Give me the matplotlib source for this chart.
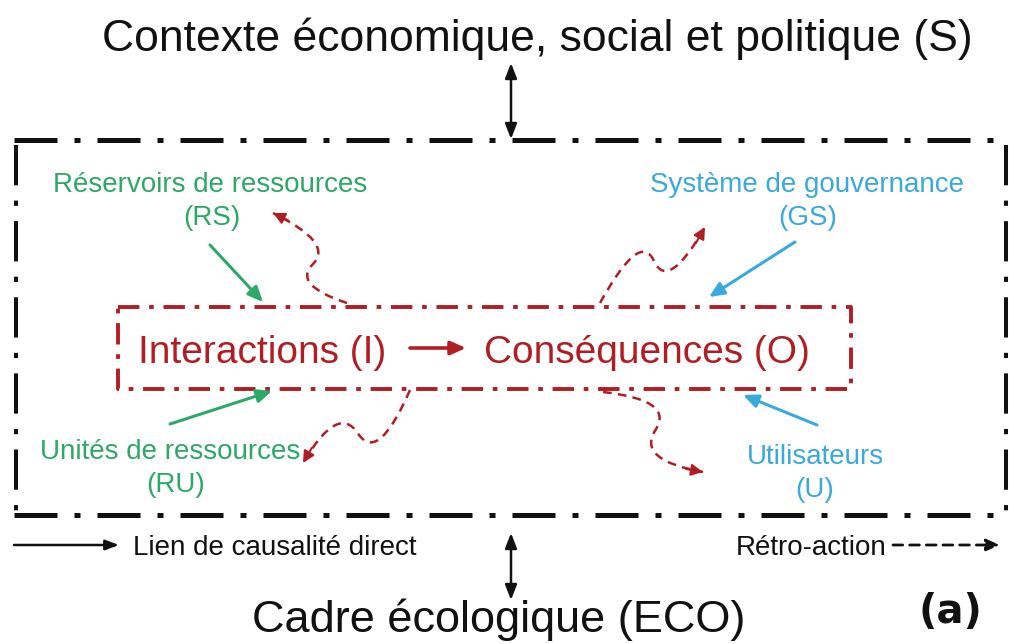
import matplotlib.pyplot as plt
from matplotlib.path import Path
from matplotlib.patches import PathPatch

# colours
BLACK = "#111111"
RED = "#b01e24"
GREEN = "#2ea866"
BLUE = "#3aa9dc"

# texts and their anchors (pixel coords, y down)
title_top = "Contexte économique, social et politique (S)"
title_bottom = "Cadre écologique (ECO)"
labels_green = [("Réservoirs de ressources", 210, 185), ("(RS)", 212, 218),
                ("Unités de ressources", 170, 452), ("(RU)", 176, 485)]
labels_blue = [("Système de gouvernance", 807, 185), ("(GS)", 808, 218),
               ("Utilisateurs", 815, 457), ("(U)", 815, 490)]

# straight arrows: (start, end)
green_arrows = [((210, 245), (263, 302)), ((170, 424), (272, 391))]
blue_arrows = [((795, 242), (709, 297)), ((817, 425), (743, 395))]

# feedback zigzags: start, corner1, corner2, end
feedback = [
    [(347, 303), (292, 285), (334, 243), (273, 213)],
    [(600, 303), (640, 230), (668, 292), (705, 227)],
    [(410, 390), (378, 464), (338, 403), (303, 463)],
    [(603, 392), (675, 400), (636, 460), (703, 472)],
]

fig = plt.figure(figsize=(10.09, 6.44), dpi=100)
ax = fig.add_axes([0, 0, 1, 1])
ax.set_xlim(0, 1009)
ax.set_ylim(644, 0)
ax.axis("off")

font = "Liberation Sans"

# outer box
dd = (0, (8.6, 3.4, 1.2, 3.4))
ax.plot([14, 1007], [140, 140], color=BLACK, lw=3.6, ls=dd, dash_capstyle="butt")
ax.plot([14, 1007], [515, 515], color=BLACK, lw=3.6, ls=dd, dash_capstyle="butt")
dv = (0, (10, 3.8, 1.3, 3.8))
ax.plot([16, 16], [145, 512], color=BLACK, lw=2.9, ls=dv, dash_capstyle="butt")
ax.plot([1006, 1006], [145, 512], color=BLACK, lw=2.9, ls=dv, dash_capstyle="butt")

# inner red box
dr = (0, (5.5, 2.5, 1.2, 2.5))
xs = [118, 851, 851, 118, 118]
ys = [307, 307, 389, 389, 307]
ax.plot(xs, ys, color=RED, lw=2.8, ls=dr, dash_capstyle="butt")

# titles
ax.text(537, 51, title_top, fontsize=32, family=font, color=BLACK, ha="center", va="baseline")
ax.text(499, 632, title_bottom, fontsize=32.5, family=font, color=BLACK, ha="center", va="baseline")
ax.text(950, 623, "(a)", fontsize=29, family="DejaVu Sans", weight="bold", color=BLACK, ha="center", va="baseline")

# double arrows to context boxes
for y0, y1 in [(63, 139), (533, 600)]:
    ax.annotate("", xy=(511, y0), xytext=(511, y1),
                arrowprops=dict(arrowstyle="<|-|>,head_length=0.9,head_width=0.35", color=BLACK, lw=1.8, shrinkA=0, shrinkB=0))

# central texts
ax.text(262, 363, "Interactions (I)", fontsize=28, family=font, color=RED, ha="center", va="baseline")
ax.text(647, 363, "Conséquences (O)", fontsize=28, family=font, color=RED, ha="center", va="baseline")
ax.annotate("", xy=(466, 348), xytext=(410, 348),
            arrowprops=dict(arrowstyle="-|>,head_length=0.9,head_width=0.4", color=RED, lw=2.6, shrinkA=0, shrinkB=0))

for txt, x, y in labels_green:
    ax.text(x, y, txt, fontsize=20, family=font, color=GREEN, ha="center", va="center")
for txt, x, y in labels_blue:
    ax.text(x, y, txt, fontsize=20, family=font, color=BLUE, ha="center", va="center")

for (p0, p1) in green_arrows:
    ax.annotate("", xy=p1, xytext=p0,
                arrowprops=dict(arrowstyle="-|>,head_length=0.9,head_width=0.4", color=GREEN, lw=2.2, shrinkA=0, shrinkB=0))
for (p0, p1) in blue_arrows:
    ax.annotate("", xy=p1, xytext=p0,
                arrowprops=dict(arrowstyle="-|>,head_length=0.9,head_width=0.4", color=BLUE, lw=2.2, shrinkA=0, shrinkB=0))

# feedback zigzags
for s, c1, c2, e in feedback:
    m = ((c1[0] + c2[0]) / 2, (c1[1] + c2[1]) / 2)
    path = Path([s, c1, m, c2, e], [Path.MOVETO, Path.CURVE3, Path.CURVE3, Path.CURVE3, Path.CURVE3])
    ax.add_patch(PathPatch(path, fill=False, edgecolor=RED, lw=1.8, ls=(0, (3.5, 2.5))))
    back = (e[0] - (e[0] - c2[0]) * 0.25, e[1] - (e[1] - c2[1]) * 0.25)
    ax.annotate("", xy=e, xytext=back,
                arrowprops=dict(arrowstyle="-|>,head_length=0.7,head_width=0.35", color=RED, lw=1.5, shrinkA=0, shrinkB=0))

# legend
ax.annotate("", xy=(119, 545), xytext=(14, 545),
            arrowprops=dict(arrowstyle="-|>,head_length=0.8,head_width=0.3", color=BLACK, lw=1.8, shrinkA=0, shrinkB=0))
ax.text(133, 555, "Lien de causalité direct", fontsize=20, family=font, color=BLACK, ha="left", va="baseline")
ax.text(887, 555, "Rétro-action", fontsize=20, family=font, color=BLACK, ha="right", va="baseline")
ax.annotate("", xy=(1000, 545), xytext=(893, 545),
            arrowprops=dict(arrowstyle="-|>,head_length=0.8,head_width=0.35", color=BLACK, lw=2.0, ls=(0, (3.5, 2.5)), shrinkA=0, shrinkB=0))

fig.savefig("out.png", dpi=100)
